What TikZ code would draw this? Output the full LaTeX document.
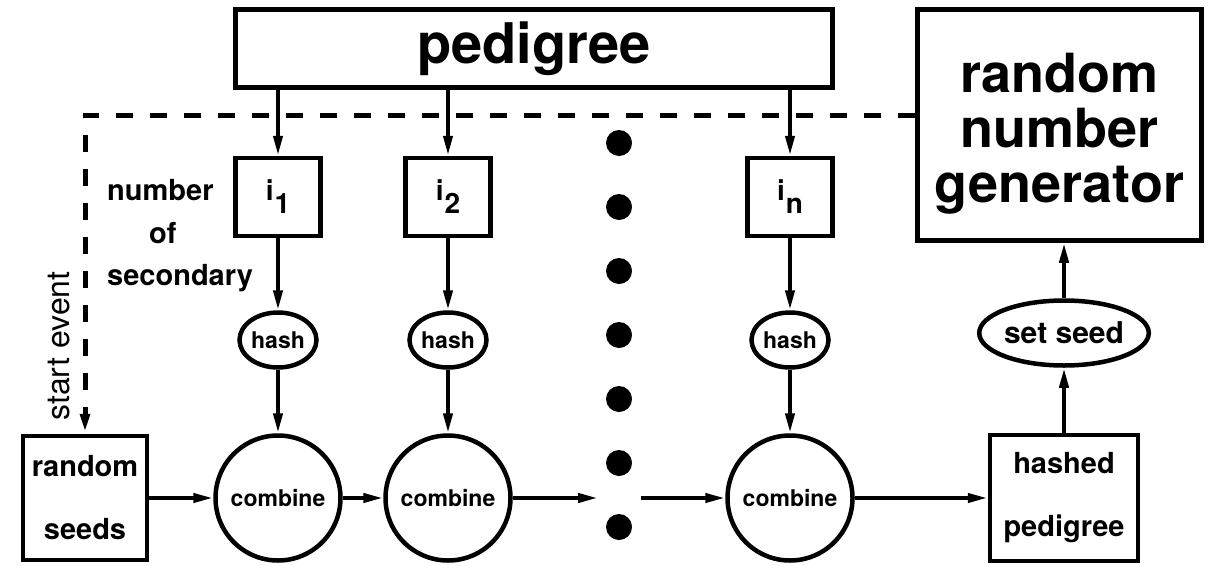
\documentclass[tikz,border=0pt]{standalone}
\usepackage{fontspec}
\setmainfont{TeX Gyre Heros}
\usetikzlibrary{arrows.meta,shapes.geometric}

\begin{document}
\begin{tikzpicture}[x=1pt,y=-1pt,
  blk/.style={rectangle,draw,line width=4.5pt,inner sep=0pt,font=\bfseries},
  oval/.style={ellipse,draw,line width=4.5pt,inner sep=0pt,
               font=\bfseries\fontsize{23}{25}\selectfont},
  comb/.style={circle,draw,line width=4.5pt,minimum size=125pt,inner sep=0pt,
               font=\bfseries\fontsize{23}{25}\selectfont},
  arrow/.style={-{Triangle[length=20pt,width=9pt]},line width=4pt},
  dot/.style={circle,fill,minimum size=26pt,inner sep=0pt},
  lbl/.style={font=\bfseries\fontsize{29}{32}\selectfont,inner sep=0pt}]

\useasboundingbox (0,0) rectangle (1209,565);

\node[blk,minimum width=597pt,minimum height=78pt,
      font=\bfseries\fontsize{56}{60}\selectfont] (ped) at (534,48.5) {pedigree};
\node[blk,minimum width=284pt,minimum height=231pt,
      label={[align=center,yshift=-9pt,font=\bfseries\fontsize{54}{55}\selectfont]
             center:random\\number\\generator}] (rng) at (1059.5,125) {};

\node[blk,minimum size=124pt,align=center,
      font=\bfseries\fontsize{29}{63}\selectfont] (seeds) at (85,498) {random\\seeds};
\node[blk,minimum width=148pt,minimum height=126pt,align=center,
      font=\bfseries\fontsize{29}{63}\selectfont] (hped) at (1064,498) {hashed\\pedigree};
\node[oval,minimum width=136pt,minimum height=65pt,
      font=\bfseries\fontsize{30}{32}\selectfont] (seed) at (1064,333) {set seed};

% start event feeds the seeds
\coordinate (corner) at (85,115);
\draw[line width=5pt,dash pattern=on 17pt off 17pt,
      -{Triangle[length=20pt,width=9pt]}] (corner -| rng.west) -- (corner) -- (seeds.north);

% one column per pedigree entry
\foreach \k/\x in {1/278,2/448,n/790} {
  \node[blk,minimum width=85pt,minimum height=78pt,
        font=\bfseries\fontsize{28}{30}\selectfont] (idx\k) at (\x,197)
    {i\kern1pt\raisebox{-13pt}{\k}};
  \node[oval,minimum width=77pt,minimum height=55pt] (hash\k) at (\x,340) {hash};
  \node[comb] (comb\k) at (\x,498) {combine};
  \draw[arrow] (ped.south -| idx\k) -- (idx\k);
  \draw[arrow] (idx\k) -- (hash\k);
  \draw[arrow] (hash\k) -- (comb\k);
}

\foreach \j in {0,...,6}
  \node[dot] (dot\j) at (619,{143+64*\j}) {};

\coordinate (gapL) at (598,498);
\coordinate (gapR) at (641,498);
\draw[arrow] (seeds) -- (comb1);
\draw[arrow] (comb1) -- (comb2);
\draw[arrow] (comb2) -- (gapL);
\draw[arrow] (gapR) -- (combn);
\draw[arrow] (combn) -- (hped);
\draw[arrow] (hped) -- (seed);
\draw[arrow] (seed) -- (rng.south -| seed);

\node[lbl,anchor=base west] (num) at (107,200) {number};
\node[lbl,anchor=base west] (of) at (149,243) {of};
\node[lbl,anchor=base west] (sec) at (107,285) {secondary};
\node[lbl,font=\fontsize{32}{34}\selectfont,rotate=90] (start) at (59,346) {start event};
\end{tikzpicture}
\end{document}
